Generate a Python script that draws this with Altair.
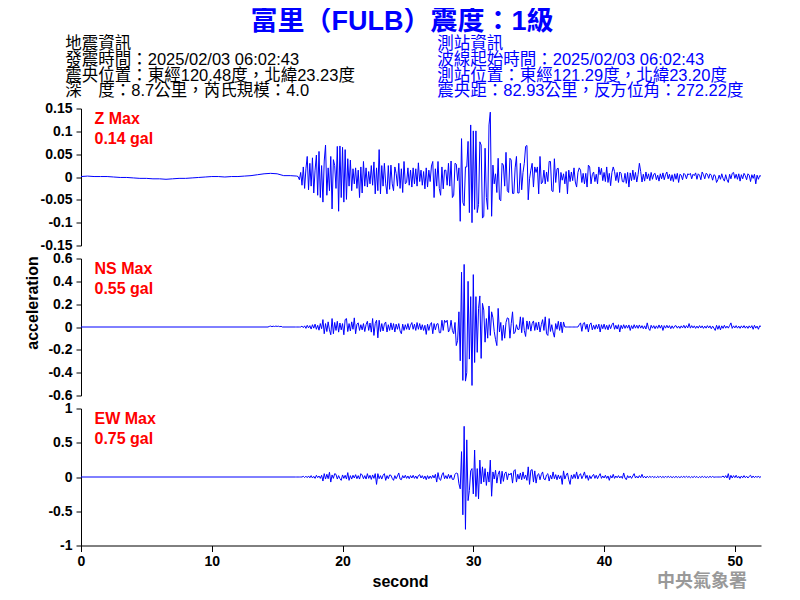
import numpy as np
import pandas as pd
import altair as alt

# ---------------- data (accelerations in mgal) ----------------
DT = 0.1          # sample spacing of the active part (s)
T_START = 16.5    # first sample of the active part (s)

Z_PRE_T = [0, 0.5, 1, 1.5, 2, 2.5, 3, 3.5, 4, 4.5, 5, 5.5, 6, 6.5, 7, 7.5, 8, 8.5,
           9, 9.5, 10, 10.5, 11, 11.5, 12, 12.5, 13, 13.5, 14, 14.5, 15, 15.5, 16]
Z_PRE = [1, 2, 1, 1, 1, 0, -1, -1, -2, -3, -3, -4, -4, -5, -4, -3, -3, -2,
         -1, 0, 1, 1, 0, 1, 1, 2, 3, 5, 7, 8, 7, 3, 3]

NS_PRE_T = [0, 14.3, 14.4, 14.5, 14.6, 14.7, 14.8, 14.9, 15.0, 15.1, 15.2, 15.3, 15.4, 16.4]
NS_PRE = [0, 0, 5, 8, 3, 7, 4, 8, 5, 7, 3, 6, 0, 0]

EW_PRE_T = [0, 16.4]
EW_PRE = [0, 0]

Z_MGAL = [
    2, 1, -6, 10, -18, 22, -25, 18, 45, -28,
    30, -20, 42, -35, 15, 48, -40, 56, -45, 25,
    -55, 35, 70, -40, 20, -30, 45, -70, 38, 25,
    -25, 67, -75, 68, -45, 65, -55, 60, -49, 40,
    -20, 37, -30, 18, -15, 20, -25, 15, -45, 22,
    -35, 34, -20, 20, -22, 12, -15, 25, -18, 33,
    -37, 20, -30, 60, -37, 25, -20, 30, -15, -37,
    25, -27, 26, -15, -30, 22, 8, -20, 30, -25,
    18, -34, 34, -15, -12, 20, -18, 15, -22, 20,
    -15, 18, -20, 31, -10, 15, -18, 12, -26, 20,
    -22, 15, -10, 24, 34, -45, 18, -20, 34, -25,
    -40, 22, -26, 15, 15, -18, 30, -20, 35, -45,
    -40, 30, 28, -8, 20, -97, 84, -56, -63, 22,
    22, 78, -78, 114, -100, 101, -71, 101, -78, -60,
    77, 70, -90, -86, 63, -45, -71, 114, 142, -86,
    26, -15, 7, -34, 41, -49, -52, 30, 26, -20,
    54, -30, -34, 41, 37, -36, -36, 20, 45, -35,
    -35, 30, -28, 10, 30, 67, 69, -50, -4, 15,
    30, -22, 22, 10, 22, -37, 45, -15, -11, 15,
    -15, 11, -10, 34, 34, -30, -32, 40, -12, 18,
    19, -34, 10, -7, 7, -15, 12, -37, 15, -10,
    11, -8, 20, -11, -22, 10, 20, 15, -12, 8,
    -15, 8, -22, 26, 22, -15, 5, 11, -10, 6,
    -15, 22, 5, 19, -8, 10, -10, 22, -12, 8,
    -19, 10, 22, 12, -8, 10, -12, 11, 8, -10,
    -11, 8, -14, 10, -22, 9, -8, 15, -6, 10,
    -11, 5, 30, 12, -11, 6, -9, 11, -4, 7,
    -8, 10, -5, 6, 8, -6, 4, -9, 7, -4,
    9, -6, 5, 11, -4, 6, -8, 5, -10, 7,
    -5, 8, -12, 6, 4, -6, 8, 5, -4, 7,
    5, 8, -4, 6, 3, 9, -5, 7, 4, -6,
    11, 5, -4, 8, 6, -3, 7, 4, -7, 5,
    3, -12, -6, 4, -5, 7, -3, -9, 5, -6,
    -12, 6, -4, 8, 10, -3, 6, -5, 7, -9,
    5, -4, 8, 3, -6, 7, 4, -10, 5, -3,
    6, -15, 4, -5, 3, 2,
]

NS_MGAL = [
    0, 0, 0, 0, 8, -6, 10, -12, 15, -8,
    12, -18, 20, -10, 25, -20, 15, -28, 30, -15,
    65, -59, 30, -40, 45, -25, -68, 74, -59, 40,
    -30, 50, -45, 35, -25, 30, -68, 65, 74, -40,
    30, -35, 45, -20, 80, -59, 25, 36, -30, 20,
    -25, 30, -40, 20, 50, -30, 35, -45, 74, -74,
    30, 59, -95, 59, -40, 30, -35, 25, 44, -44,
    20, -30, 36, -25, 30, -44, 25, -20, 30, -35,
    -59, 25, -30, 20, -20, 30, -25, 15, 39, -20,
    25, -30, 39, -20, 30, -25, 20, -30, 15, -65,
    25, -30, 20, 39, -59, 30, -25, 25, 30, -50,
    -50, 59, -30, 59, 40, 59, -44, -20, 59, -30,
    -59, 40, -163, -118, 133, -296, 480, -468, 548, -474,
    -400, 400, -281, 266, -512, 459, -311, 266, -222, 163,
    272, -275, 207, 148, -133, 74, -98, 184, -74, 133,
    80, -39, -110, -163, 163, -44, 40, -118, 15, -98,
    40, 80, 74, -98, 30, 133, -59, -44, 20, -21,
    -21, 89, -50, 83, -30, -83, 53, -20, 50, -36,
    30, 53, -30, 39, -25, 44, -44, 20, 65, -30,
    89, -59, -74, 74, -39, 20, -44, -89, 30, -20,
    50, -30, 44, -50, 44, 0, 0, 0, 0, 0,
    0, 0, 0, 0, 0, 0, 20, 36, -38, 30,
    39, -20, 25, -44, 20, 36, -25, 15, -20, 20,
    -15, 25, -44, 20, -15, 25, -20, 15, -25, 20,
    -15, 20, 36, -20, 15, -18, 20, -44, 15, -15,
    20, -12, 15, -10, 18, -30, 12, -15, 20, -10,
    15, -12, 18, -10, 12, -15, 10, -18, 36, -12,
    -30, 15, -10, 12, -15, 10, -12, 18, -10, 15,
    -30, 12, -10, 15, -8, 12, -15, 10, -12, 8,
    12, -10, 8, -12, 10, -8, 15, -10, 12, -8,
    30, -10, 12, -8, 10, -12, 8, -10, 12, -8,
    10, -12, 8, -10, 12, -8, 10, -15, 8, -10,
    -30, 15, -20, 12, -25, 10, -12, 15, -10, 8,
    -10, 12, 36, -12, 10, -8, 12, -10, 8, -12,
    10, -8, 12, -10, 8, -12, 10, -8, 12, -20,
    15, -10, 8, -20, 10, 5,
]

EW_MGAL = [
    0, 0, 0, 0, 0, 10, -8, 12, -10, 15,
    -12, 20, -15, 10, -20, 25, -10, 15, -20, 25,
    -59, 49, -30, 40, -25, 69, -74, 30, -20, 49,
    39, -30, 20, -25, -49, 30, -20, 25, -30, 64,
    -49, 20, -30, 25, -15, 34, -25, 20, -30, 49,
    30, -25, 20, -30, 49, -20, 25, -35, 30, -20,
    49, -108, 49, -25, 20, -30, 25, 49, -49, 20,
    -25, 30, 25, -20, -49, 20, -25, 15, 59, -30,
    -39, 20, -15, 25, -20, 15, -25, 20, -15, 25,
    -20, 15, -25, 20, 34, -15, 20, -25, 15, -39,
    20, -25, 15, -20, 25, -15, 39, -74, 64, -30,
    -49, 30, 64, -25, 20, -25, 39, -20, 30, -35,
    -35, 39, 59, 50, -99, -173, 370, -552, 740, -764,
    542, -345, -197, 89, 123, -247, 394, -286, 123, -320,
    247, -99, 148, -74, 123, -123, 74, -74, 247, -281,
    74, -30, 99, -89, 40, 89, -99, 84, -64, 50,
    74, -40, 49, 30, 59, -89, 89, 108, -74, 40,
    -30, 59, -40, 74, -25, 30, -49, 148, -108, 99,
    108, -74, 89, -89, 30, 49, -40, 35, 74, -30,
    -40, 30, 49, -59, 25, -30, 74, -25, 35, -40,
    30, -25, 20, -108, 89, -30, 25, 59, -40, -108,
    30, -25, 39, -20, 74, -30, 25, 49, -25, 20,
    74, -20, 25, -49, 20, -25, 15, 39, -20, 25,
    -25, 15, 49, -20, 15, -15, 25, -20, 15, -49,
    20, -15, 39, -20, 15, -12, 20, -15, 12, -20,
    59, -15, -39, 20, -12, 15, -20, 15, 49, -15,
    12, -15, 20, -10, 39, -12, 10, -15, 12, -8,
    10, -8, 12, -10, 8, -12, 10, -8, 12, -10,
    8, -10, 12, -8, 10, -6, 8, -10, 6, -8,
    10, -8, 6, -10, 8, -6, 10, -8, 12, -6,
    8, -10, 6, -8, 10, -6, 8, -12, 6, -8,
    10, -6, 8, -10, 6, -8, 10, -6, 8, -4,
    0, 0, 0, 0, 0, 0, 15, -10, 20, -15,
    49, -39, 25, -15, 20, -10, 25, -15, 10, -20,
    15, -12, 20, -10, 12, -15, 10, 25, -12, 15,
    -10, 12, -8, 15, -10, 8,
]

COMPONENTS = ["Z Max", "NS Max", "EW Max"]
PGA_LABELS = ["0.14 gal", "0.55 gal", "0.75 gal"]
Y_DOMAINS = [[-0.15, 0.15], [-0.6, 0.6], [-1, 1]]
Y_TICKS = [[0.15, 0.1, 0.05, 0, -0.05, -0.1, -0.15],
           [0.6, 0.4, 0.2, 0, -0.2, -0.4, -0.6],
           [1, 0.5, 0, -0.5, -1]]
X_TICKS = [0, 10, 20, 30, 40, 50]
X_DOMAIN = [0, 52]

TITLE = "富里（FULB）震度：1級"
INFO_LEFT = ["地震資訊",
             "發震時間：2025/02/03 06:02:43",
             "震央位置：東經120.48度，北緯23.23度",
             "深　度：8.7公里，芮氏規模：4.0"]
INFO_RIGHT = ["測站資訊",
              "波線起始時間：2025/02/03 06:02:43",
              "測站位置：東經121.29度，北緯23.20度",
              "震央距：82.93公里，反方位角：272.22度"]
AGENCY = "中央氣象署"

# ---------------- styling ----------------
LATIN = "Liberation Sans, Arial, Helvetica, sans-serif"
MIXED = "Liberation Sans, Noto Sans CJK TC, sans-serif"
BLUE = "#0000ff"
RED = "#ff0000"
W, H = 680, 137


def trace_df(pre_t, pre_v, vals):
    t_act = np.round(T_START + DT * np.arange(len(vals)), 3)
    t = np.concatenate([np.array(pre_t, dtype=float), t_act])
    a = np.concatenate([np.array(pre_v, dtype=float), np.array(vals, dtype=float)]) / 1000.0
    return pd.DataFrame({"t": t, "a": a})


def text_layer(s, x, y, size, color, weight="normal", align="left", font=MIXED, line_height=None):
    kw = dict(align=align, baseline="middle", font=font, fontSize=size, color=color, fontWeight=weight)
    if "\n" in s:
        kw.update(lineBreak="\n", lineHeight=line_height)
    return alt.Chart(pd.DataFrame({"label": [s]})).mark_text(**kw).encode(
        text="label:N", x=alt.value(x), y=alt.value(y))


def y_axis(i, title=None):
    kw = dict(values=Y_TICKS[i], labelExpr="'' + datum.value", tickSize=5, labelPadding=4,
              labelFlush=False, labelOverlap=False, grid=False, title=title)
    if title:
        kw.update(titleAngle=270, titleX=-49, titleY=44, titleAlign="center",
                  titleBaseline="middle", titleFontSize=16, titleFontWeight="bold",
                  titleFont=LATIN, titleColor="black")
    return alt.Axis(**kw)


def line_chart(df, i, x_axis, title=None):
    return alt.Chart(df).mark_line(color=BLUE, strokeWidth=1).encode(
        x=alt.X("t:Q", scale=alt.Scale(domain=X_DOMAIN, nice=False, zero=False), axis=x_axis),
        y=alt.Y("a:Q", scale=alt.Scale(domain=Y_DOMAINS[i], nice=False, zero=False),
                axis=y_axis(i, title)),
    )


def comp_label(i):
    # first line centred at y, second line one lineHeight below
    return text_layer(COMPONENTS[i] + "\n" + PGA_LABELS[i], 13.5, 10.5, 16, RED,
                      weight="bold", font=LATIN, line_height=19.5)


df_z = trace_df(Z_PRE_T, Z_PRE, Z_MGAL)
df_ns = trace_df(NS_PRE_T, NS_PRE, NS_MGAL)
df_ew = trace_df(EW_PRE_T, EW_PRE, EW_MGAL)

x_bottom = alt.Axis(values=X_TICKS, tickSize=6, labelPadding=3, labelFlush=False, grid=False,
                    title="second", titleX=319, titleY=36, titleAlign="center",
                    titleBaseline="middle", titleFontSize=16, titleFontWeight="bold",
                    titleFont=LATIN, titleColor="black")

top = alt.layer(
    line_chart(df_z, 0, None),
    comp_label(0),
    text_layer(TITLE, 321, -86.5, 27, BLUE, weight="bold", align="center"),
    text_layer("\n".join(INFO_LEFT), -15.8, -64.3, 16.5, "black", line_height=15.7),
    text_layer("\n".join(INFO_RIGHT), 356.2, -64.3, 16.5, BLUE, line_height=15.7),
).properties(width=W, height=H)

mid = alt.layer(
    line_chart(df_ns, 1, None, title="acceleration"),
    comp_label(1),
).properties(width=W, height=H)

bot = alt.layer(
    line_chart(df_ew, 2, x_bottom),
    comp_label(2),
    text_layer(AGENCY, 621, 173, 18, "#999999", weight="bold", align="center"),
).properties(width=W, height=H)

chart = alt.vconcat(top, mid, bot, spacing=13, bounds="flush").properties(
    padding={"left": 16, "top": -0.5, "right": 10, "bottom": 2}
).configure_view(strokeWidth=0).configure_axis(
    labelFont=LATIN, labelFontSize=14, labelFontWeight="bold", labelColor="black",
    domainColor="black", tickColor="black", domainWidth=1, tickWidth=1,
)

chart.save("out.html", embed_options={"renderer": "svg", "actions": False})
